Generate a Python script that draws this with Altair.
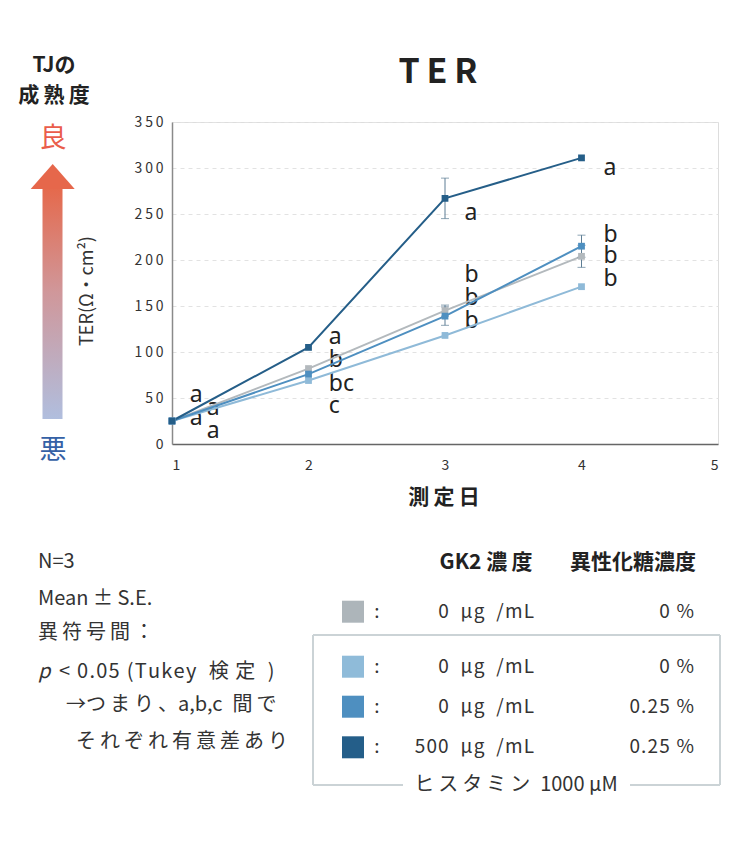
import altair as alt
import pandas as pd
import re

# ---------------- data ----------------
days = [1, 2, 3, 4]
series_keys = ["ctrl", "his", "his_hfcs", "his_hfcs_gk2"]
series_colors = ["#b3b9bd", "#8fbad8", "#4e8fc0", "#255e88"]
ter_ctrl = [25, 82, 145, 204]
ter_his = [25, 69, 118, 171]
ter_hfcs = [25, 76, 139, 215]
ter_gk2 = [25, 105, 267, 311]
se_ctrl = [0, 0, 6, 12]
se_his = [0, 0, 0, 0]
se_hfcs = [0, 0, 10, 12]
se_gk2 = [0, 0, 22, 0]

x_ticks = [1, 2, 3, 4, 5]
y_ticks = [0, 50, 100, 150, 200, 250, 300, 350]

letter_day = [1.13, 1.254, 1.13, 1.254,
              2.149, 2.149, 2.149, 2.149,
              3.142, 3.142, 3.142, 3.142,
              4.161, 4.161, 4.161, 4.161]
letter_ter = [45.7, 31.2, 20.3, 6.2,
              108.4, 83.7, 57.6, 33.4,
              244, 176, 150.8, 126.5,
              292, 220, 196.7, 171.7]
letter_text = ["a", "a", "a", "a",
               "a", "b", "bc", "c",
               "a", "b", "b", "b",
               "a", "b", "b", "b"]

legend_order = ["ctrl", "his", "his_hfcs", "his_hfcs_gk2"]
legend_gk2 = ["0 μg /mL", "0 μg /mL", "0 μg /mL", "500 μg /mL"]
legend_hfcs = ["0 %", "0 %", "0.25 %", "0.25 %"]
notes = ["N=3", "Mean ± S.E.", "異符号間：", "< 0.05 (Tukey 検定 )",
         "→つまり、a,b,c 間で", "それぞれ有意差あり"]

# ---------------- helpers ----------------
THIN = "\u2009"
HAIR = "\u200a"
EN = "\u2002"
CJK = re.compile(r"[\u3000-\u30ff\u4e00-\u9fff\uff00-\uffef]")


def track_cjk(s):
    out = ""
    for i, c in enumerate(s):
        nxt = s[i + 1] if i + 1 < len(s) else ""
        if c == " " and (CJK.match(nxt) or (i > 0 and CJK.match(s[i - 1]))):
            out += EN
            continue
        out += c
        if nxt and CJK.match(c) and CJK.match(nxt):
            out += THIN
    return out


def track_all(s, ch=HAIR):
    return ch.join(s)


# ---------------- tables ----------------
vals = {"ctrl": ter_ctrl, "his": ter_his, "his_hfcs": ter_hfcs, "his_hfcs_gk2": ter_gk2}
ses = {"ctrl": se_ctrl, "his": se_his, "his_hfcs": se_hfcs, "his_hfcs_gk2": se_gk2}
rows = []
for k in series_keys:
    for d, v, s in zip(days, vals[k], ses[k]):
        rows.append({"day": d, "ter": v, "se": s, "series": k,
                     "lo": v - s, "hi": v + s})
df = pd.DataFrame(rows)
df_err = df[df["se"] > 0]
df_letters = pd.DataFrame({"day": letter_day, "ter": letter_ter, "t": letter_text})

JP = "Noto Sans CJK JP"
TXT = "#333333"
DARK = "#222222"
color_scale = alt.Scale(domain=series_keys, range=series_colors)

xenc = alt.X("day:Q", scale=alt.Scale(domain=[1, 5], nice=False, zero=False),
             axis=alt.Axis(values=x_ticks, format="d", title=None, grid=False,
                           domainColor="#666666", domainWidth=1.5, ticks=False,
                           labelPadding=14, labelFontSize=14, labelColor=TXT,
                           labelFont=JP))
yenc = alt.Y("ter:Q", scale=alt.Scale(domain=[0, 350], nice=False),
             axis=alt.Axis(values=y_ticks, title=None, grid=True, gridDash=[4, 4],
                           gridColor="#e2e2e2", domainColor="#8a8a8a", domainWidth=1.5,
                           ticks=False, labelPadding=9, labelFontSize=14,
                           labelColor=TXT, labelFont=JP,
                           labelExpr="join(split(datum.label, ''), '\u2009')"))

base = alt.Chart(df)
letters = alt.Chart(df_letters).mark_text(
    align="left", baseline="alphabetic", fontSize=23, font="Noto Sans",
    color=DARK).encode(x=alt.X("day:Q"), y=alt.Y("ter:Q"), text="t:N")
lines = base.mark_line(strokeWidth=2).encode(
    x=xenc, y=yenc, color=alt.Color("series:N", scale=color_scale, legend=None),
    detail="series:N")
points = base.mark_point(shape="square", filled=True, size=46, opacity=1).encode(
    x="day:Q", y="ter:Q", color=alt.Color("series:N", scale=color_scale, legend=None))
ERR = "#5d7d94"
err_rule = alt.Chart(df_err).mark_rule(color=ERR, strokeWidth=1).encode(
    x="day:Q", y="lo:Q", y2="hi:Q")
cap_lo = alt.Chart(df_err).mark_tick(color=ERR, orient="horizontal",
                                     size=8, thickness=1).encode(x="day:Q", y="lo:Q")
cap_hi = alt.Chart(df_err).mark_tick(color=ERR, orient="horizontal",
                                     size=8, thickness=1).encode(x="day:Q", y="hi:Q")


def txt(s, px, py, **kw):
    return alt.Chart(pd.DataFrame({"t": [s]})).mark_text(**kw).encode(
        x=alt.value(px), y=alt.value(py), text="t:N")


def rule(x1, y1, x2, y2, color="#cbd3d6", w=2):
    return alt.Chart(pd.DataFrame({"a": [0]})).mark_rule(
        color=color, strokeWidth=w).encode(
        x=alt.value(x1), x2=alt.value(x2), y=alt.value(y1), y2=alt.value(y2))


def rect(x1, y1, x2, y2, fill):
    return alt.Chart(pd.DataFrame({"a": [0]})).mark_rect(fill=fill).encode(
        x=alt.value(x1), x2=alt.value(x2), y=alt.value(y1), y2=alt.value(y2))


deco = []
# title and axis titles
deco.append(txt("T\u2009E\u2009R", 266, -49, fontSize=34, fontWeight="bold", font=JP,
                 color=DARK, align="center", baseline="middle"))
deco.append(txt("測\u2009定\u2009日", 272, 376, fontSize=21, fontWeight="bold", font=JP,
                color=DARK, align="center", baseline="middle"))
deco.append(txt("TER(Ω・cm²)", -84, 169, fontSize=18, font=JP, color=TXT,
                align="center", baseline="middle", angle=270))
# left maturity indicator
deco.append(txt("TJの", -118, -56, fontSize=21, fontWeight="bold", font=JP,
                color=DARK, align="center", baseline="middle"))
deco.append(txt(track_cjk("成熟度"), -118, -26, fontSize=21, fontWeight="bold", font=JP,
                color=DARK, align="center", baseline="middle"))
deco.append(txt("良", -119, 17, fontSize=27, font=JP, color="#ea5d4b",
                align="center", baseline="middle"))
deco.append(txt("悪", -119, 329, fontSize=27, font=JP, color="#3561a6",
                align="center", baseline="middle"))
grad = alt.LinearGradient(
    gradient="linear", x1=0, y1=0, x2=0, y2=1,
    stops=[alt.GradientStop(color="#e5694c", offset=0),
           alt.GradientStop(color="#d0979a", offset=0.45),
           alt.GradientStop(color="#b0bede", offset=1)])
deco.append(rect(-129.5, 66, -109.5, 297, grad))
deco.append(alt.Chart(pd.DataFrame({"a": [0]})).mark_point(
    shape="M-1,0.568L0,-0.568L1,0.568Z", size=1936, filled=True,
    fill="#e6674b", strokeWidth=0, opacity=1).encode(
    x=alt.value(-119.3), y=alt.value(54.5)))

# notes
note_y = [440, 477, 511, 549.5, 583, 619.7]
note_x = [-134, -134, -134, -113, -106, -96]
for i, (s, nx, ny) in enumerate(zip(notes, note_x, note_y)):
    t = track_cjk(s)
    if i == 3:
        t = track_all(t, HAIR)
    deco.append(txt(t, nx, ny, fontSize=20, font=JP, color=TXT,
                    align="left", baseline="middle"))
deco.append(txt("p", -134, 549.5, fontSize=20, font=JP, fontStyle="italic",
                color=TXT, align="left", baseline="middle"))

# legend
deco.append(txt("GK2 " + track_cjk("濃度"), 314, 441, fontSize=21, fontWeight="bold",
                font=JP, color=DARK, align="center", baseline="middle"))
deco.append(txt("異性化糖濃度", 461, 441, fontSize=21, fontWeight="bold",
                font=JP, color=DARK, align="center", baseline="middle"))
row_y = [489.7, 544.7, 584.7, 625.3]
sq_color = {"ctrl": "#adb5ba", "his": "#8fbbd9", "his_hfcs": "#4e8fc0",
            "his_hfcs_gk2": "#245e89"}
for k, g, h, ry in zip(legend_order, legend_gk2, legend_hfcs, row_y):
    deco.append(rect(170, ry - 11, 192, ry + 11, sq_color[k]))
    deco.append(txt(":", 205, ry, fontSize=19, font=JP, color=TXT,
                    align="center", baseline="middle"))
    deco.append(txt(track_all(g.replace(" ", EN)), 362, ry, fontSize=19,
                    font=JP, color=TXT, align="right", baseline="middle"))
    deco.append(txt(track_all(h), 522, ry, fontSize=19,
                    font=JP, color=TXT, align="right", baseline="middle"))
# histamine box
deco.append(rule(141, 513, 141, 663))
deco.append(rule(141, 513, 548, 513))
deco.append(rule(548, 513, 548, 663))
deco.append(rule(141, 663, 231, 663))
deco.append(rule(458, 663, 548, 663))
deco.append(txt(track_cjk("ヒスタミン") + EN + "1000 μM", 344, 663, fontSize=20,
                font=JP, color=TXT, align="center", baseline="middle"))

chart = alt.layer(letters, lines, err_rule, cap_lo, cap_hi, points, *deco).properties(
    width=546, height=322,
    autosize=alt.AutoSizeParams(type="none"),
    padding={"left": 164, "top": 114, "right": 24, "bottom": 398},
).configure_view(stroke=None).configure(background="white")

chart.save("out.html", embed_options={"renderer": "svg", "actions": False})
